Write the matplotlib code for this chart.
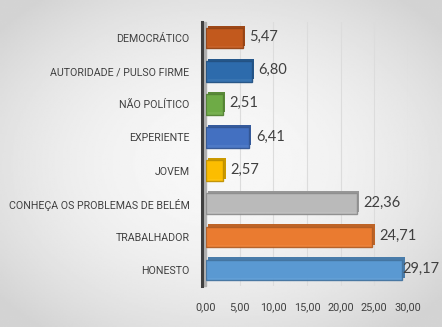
import numpy as np
import matplotlib.pyplot as plt
from matplotlib.colors import to_rgb

# dados (de baixo para cima)
categorias = ['HONESTO', 'TRABALHADOR', 'CONHEÇA OS PROBLEMAS DE BELÉM', 'JOVEM',
              'EXPERIENTE', 'NÃO POLÍTICO', 'AUTORIDADE / PULSO FIRME', 'DEMOCRÁTICO']
valores = [29.17, 24.71, 22.36, 2.57, 6.41, 2.51, 6.80, 5.47]
cores = ['#5B9BD5', '#ED7D31', '#BDBDBD', '#FFC000', '#4472C4', '#70AD47', '#2E6DAE', '#C55A1E']
ticks_x = [0, 5, 10, 15, 20, 25, 30]

FONTE = ['Roboto', 'DejaVu Sans']

fig = plt.figure(figsize=(4.42, 3.27), dpi=100)

# fundo com gradiente radial
bg = fig.add_axes([0, 0, 1, 1])
yy, xx = np.mgrid[-1:1:200j, -1:1:300j]
r = np.clip(np.sqrt(xx ** 2 * 0.6 + yy ** 2 * 0.6), 0, 1)
bg.imshow(0.97 - 0.14 * r ** 2, cmap='gray', vmin=0, vmax=1, aspect='auto', extent=[0, 1, 0, 1])
bg.axis('off')

# tamanho da fonte das categorias: o rótulo mais longo ocupa ~181 px
renderer = fig.canvas.get_renderer()
t = fig.text(0, 0, max(categorias, key=len), fontsize=10, family=FONTE)
larg = t.get_window_extent(renderer).width
t.remove()
tam_cat = 10 * 181 / larg

ax = fig.add_axes([0.466, 0.124, 0.457, 0.81])
ax.set_facecolor('none')
# spine antes dos ticks (set_position reinicia os ticks)
for s in ['top', 'right', 'bottom']:
    ax.spines[s].set_visible(False)
ax.spines['left'].set_color('#404040')
ax.spines['left'].set_linewidth(2.2)
ax.spines['left'].set_position(('data', -0.6))
ax.set_xlim(0, 30)
ax.set_ylim(-0.5, 7.5)

y = np.arange(len(categorias))
for v in ticks_x[1:]:
    ax.axvline(v, color='#dcdcdc', lw=0.8, zorder=0)

# parede lateral 3D
ax.axvspan(-0.6, 0, color='#b0b0b0', clip_on=False, zorder=1)

def escurecer(c, f):
    return tuple(np.array(to_rgb(c)) * f)

for yi, v, c in zip(y, valores, cores):
    # face de trás (profundidade)
    ax.barh(yi + 0.07, v, left=0.35, height=0.62, color=escurecer(c, 0.8), zorder=2)
    ax.barh(yi, v, height=0.62, color=c, edgecolor=escurecer(c, 0.75), lw=1.0, alpha=0.95, zorder=3)
    ax.text(min(v + 1.0, 29.2), yi + 0.03, f'{v:.2f}'.replace('.', ','), va='center', ha='left',
            fontsize=10.5, color='#404040', family=['Lato', 'DejaVu Sans'], zorder=4)

ax.set_yticks(y)
ax.set_yticklabels(categorias, fontsize=tam_cat, color='#404040', family=FONTE)
ax.set_xticks(ticks_x)
ax.set_xticklabels([f'{t:.2f}'.replace('.', ',') for t in ticks_x], fontsize=7.8, color='#404040',
                   family=FONTE)
ax.tick_params(axis='both', length=0)
ax.tick_params(axis='y', pad=9)
ax.tick_params(axis='x', pad=11)

fig.savefig('out.png', dpi=100)
